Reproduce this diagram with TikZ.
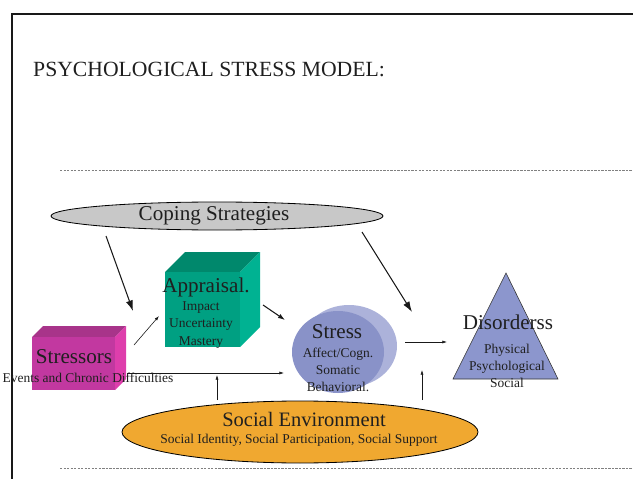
\documentclass[tikz,border=0pt]{standalone}
\usepackage{fontspec}
\setmainfont{Liberation Serif}
\usetikzlibrary{arrows.meta}
\tikzset{
  bigtext/.style = {font = \fontsize{18}{20}\selectfont, text = black!88, inner sep = 0pt},
  smalltext/.style = {font = \fontsize{11.5}{14.8}\selectfont, text = black!88, inner sep = 0pt, align = center},
  heavyarrow/.style = {-{Latex[length = 9pt, width = 6pt]}, line width = 0.9pt, draw = black!90},
  lightarrow/.style = {-{Latex[length = 4pt, width = 2.6pt]}, line width = 0.5pt, draw = black!90}
}
\begin{document}
\begin{tikzpicture}[x = 0.03cm, y = -0.03cm]
\useasboundingbox (0,0) rectangle (633,479);
\pgfmathsetmacro\ad{20};
\pgfmathsetmacro\sd{11};
\draw [line width = 1.6pt, draw = black!90] (12,479) -- (12,14) -- (633,14);
\node [anchor = base west, font = \fontsize{18.5}{20}\selectfont, text = black!88, inner sep = 0pt] (title) at (33,77) {PSYCHOLOGICAL STRESS MODEL:};
\foreach \y in {170,468} \draw [gray, line width = 0.6pt, dash pattern = on 2pt off 1pt] (60,\y) -- (633,\y);
% coping ellipse
\definecolor{mycolor}{RGB}{200,200,200}
\draw [fill = mycolor, draw = black, line width = 0.7pt] (217,216) ellipse [x radius = 166, y radius = 14];
\node [bigtext] (coping) at (214,216) {Coping Strategies};
% appraisal cube
\definecolor{mycolor}{RGB}{0,136,108}
\draw [fill = mycolor, draw = none] (165,272) -- (165+\ad,272-\ad) -- (240+\ad,272-\ad) -- (240,272) -- cycle;
\definecolor{mycolor}{RGB}{0,178,146}
\draw [fill = mycolor, draw = none] (240,272) -- (240+\ad,272-\ad) -- (240+\ad,347-\ad) -- (240,347) -- cycle;
\definecolor{mycolor}{RGB}{0,160,130}
\draw [fill = mycolor, draw = none] (165,272) rectangle (240,347);
\node [bigtext] (appraisal) at (206,287) {Appraisal.};
\node [smalltext] (appraisalsub) at (201,325) {Impact\\Uncertainty\\Mastery};
% stressors cube
\definecolor{mycolor}{RGB}{168,52,138}
\draw [fill = mycolor, draw = none] (32,337) -- (32+\sd,337-\sd) -- (115+\sd,337-\sd) -- (115,337) -- cycle;
\definecolor{mycolor}{RGB}{222,62,172}
\draw [fill = mycolor, draw = none] (115,337) -- (115+\sd,337-\sd) -- (115+\sd,390-\sd) -- (115,390) -- cycle;
\definecolor{mycolor}{RGB}{194,56,160}
\draw [fill = mycolor, draw = none] (32,337) rectangle (115,390);
\node [bigtext] (stressors) at (74,357) {Stressors};
\node [smalltext] (stressorssub) at (88,378) {Events and Chronic Difficulties};
% stress cylinder
\definecolor{mycolor}{RGB}{172,178,218}
\fill [mycolor] (349,346) ellipse [x radius = 48, y radius = 41];
\definecolor{mycolor}{RGB}{137,146,200}
\fill [mycolor] (338,352) ellipse [x radius = 46, y radius = 41];
\node [bigtext] (stress) at (337,332) {Stress};
\node [smalltext] (stresssub) at (338,370) {Affect/Cogn.\\Somatic\\Behavioral.};
% disorders triangle
\definecolor{mycolor}{RGB}{140,150,205}
\draw [fill = mycolor, draw = black!80, line width = 0.5pt] (506,273) -- (558,379) -- (453,379) -- cycle;
\node [bigtext] (disorders) at (508,322) {Disorderss};
\node [smalltext] (disorderssub) at (507,366) {Physical\\Psychological\\Social};
% social environment ellipse
\definecolor{mycolor}{RGB}{240,168,48}
\draw [fill = mycolor, draw = black, line width = 0.7pt] (300,432) ellipse [x radius = 178, y radius = 31];
\node [bigtext, font = \fontsize{17.5}{20}\selectfont] (social) at (304,419) {Social Environment};
\node [smalltext] (socialsub) at (299,440) {Social Identity, Social Participation, Social Support};
% arrow ends
\coordinate (copyA) at (106,236);
\coordinate (copyB) at (133,311);
\coordinate (copyC) at (362,232);
\coordinate (copyD) at (412,312);
\coordinate (strA) at (134,345);
\coordinate (strB) at (159,316);
\coordinate (appA) at (263,305);
\coordinate (appB) at (285,320);
\coordinate (lineA) at (127,373);
\coordinate (lineB) at (284,373);
\coordinate (socA) at (217,400);
\coordinate (socB) at (217,375);
\coordinate (disA) at (405,342);
\coordinate (disB) at (447,342);
\coordinate (socC) at (422,400);
\coordinate (socD) at (422,370);
\draw [heavyarrow] (copyA) -- (copyB);
\draw [heavyarrow] (copyC) -- (copyD);
\draw [lightarrow] (strA) -- (strB);
\draw [heavyarrow, -{Latex[length = 6pt, width = 4pt]}] (appA) -- (appB);
\draw [lightarrow] (lineA) -- (lineB);
\draw [lightarrow] (socA) -- (socB);
\draw [lightarrow] (disA) -- (disB);
\draw [lightarrow] (socC) -- (socD);
\end{tikzpicture}
\end{document}
